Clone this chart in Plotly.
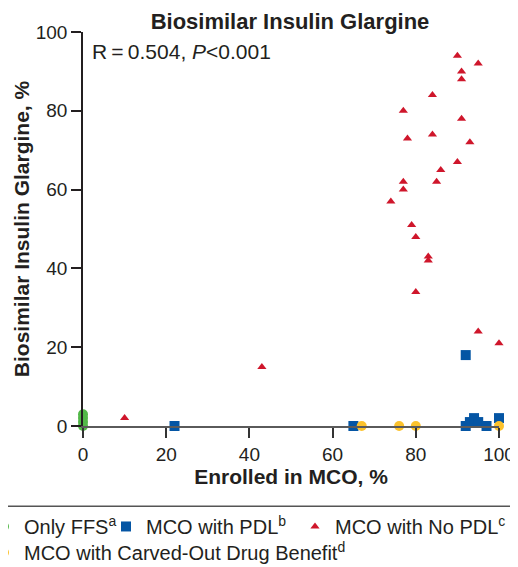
import plotly.graph_objects as go

# Enrolled in MCO (%) vs biosimilar insulin glargine share (%), per state
ffs_x = [0, 0, 0, 0]
ffs_y = [0, 1, 2, 3]

pdl_x = [22, 65, 92, 92, 93, 94, 95, 97, 100]
pdl_y = [0, 0, 18, 0, 1, 2, 1, 0, 2]

nopdl_x = [90, 95, 91, 91, 84, 77, 91, 78, 84, 93, 90, 86, 85, 77, 77,
           74, 79, 80, 83, 83, 80, 95, 100, 43, 10]
nopdl_y = [94, 92, 90, 88, 84, 80, 78, 73, 74, 72, 67, 65, 62, 62, 60,
           57, 51, 48, 43, 42, 34, 24, 21, 15, 2]

carved_x = [67, 76, 80, 100]
carved_y = [0, 0, 0, 0]

x_ticks = [0, 20, 40, 60, 80, 100]
y_ticks = [0, 20, 40, 60, 80, 100]

FONT = 'Liberation Sans, Arial, sans-serif'
TEXT = '#231f20'


def make_scatter(x, y, name, symbol, color, size, legend):
    return go.Scatter(
        x=x, y=y, mode='markers', name=name, legend=legend,
        marker=dict(symbol=symbol, color=color, size=size, line=dict(width=0)),
        cliponaxis=False,
    )


def legend_box(x, y):
    # one legend per entry so the entries sit where the original puts them
    return dict(orientation='h', x=x, xanchor='left', y=y, yanchor='middle',
                font=dict(size=20, color=TEXT), bgcolor='rgba(0,0,0,0)')


def plot_glargine():
    fig = go.Figure(data=[
        make_scatter(ffs_x, ffs_y, 'Only FFS<sup>a</sup>', 'circle', '#52b848', 10, 'legend'),
        make_scatter(pdl_x, pdl_y, 'MCO with PDL<sup>b</sup>', 'square', '#0455a4', 10, 'legend2'),
        make_scatter(nopdl_x, nopdl_y, 'MCO with No PDL<sup>c</sup>', 'triangle-up', '#cf162b', 8, 'legend3'),
        make_scatter(carved_x, carved_y, 'MCO with Carved-Out Drug Benefit<sup>d</sup>', 'circle', '#fcc22c', 10, 'legend4'),
    ])

    # the page body has an 8px margin, so the figure is drawn 8px smaller
    fig.update_layout(
        width=510, height=559,
        margin=dict(l=75, r=19, t=24, b=141, autoexpand=False),
        plot_bgcolor='white', paper_bgcolor='white',
        font=dict(family=FONT, size=19, color=TEXT),
        title=dict(text='<b>Biosimilar Insulin Glargine</b>', x=0.4976, xref='paper', xanchor='center',
                   y=0.977, yanchor='middle', font=dict(size=22)),
        showlegend=True,
        legend=legend_box(-0.238, -0.255),
        legend2=legend_box(0.0553, -0.255),
        legend3=legend_box(0.5096, -0.255),
        legend4=legend_box(-0.238, -0.321),
        shapes=[dict(type='line', xref='paper', yref='paper', x0=-0.25, x1=1.1,
                     y0=-0.2038, y1=-0.2038, line=dict(color='#555', width=1.5))],
        annotations=[dict(text='R\u2009=\u20090.504, <i>P</i>&lt;0.001', xref='paper', yref='paper',
                          x=0.0168, y=0.95, xanchor='left', yanchor='middle', showarrow=False,
                          font=dict(size=21))],
    )
    fig.update_xaxes(
        range=[0, 100], tickvals=x_ticks, showgrid=False, zeroline=False,
        showline=True, linecolor='#5a5a5a', linewidth=1.5,
        ticks='outside', ticklen=10, tickcolor='#333', tickwidth=1.5,
        title=dict(text='<b>Enrolled in MCO, %</b>', font=dict(size=21), standoff=0),
    )
    fig.update_yaxes(
        range=[0, 100], tickvals=y_ticks, showgrid=False, zeroline=False,
        showline=True, linecolor=TEXT, linewidth=1.5,
        ticks='outside', ticklen=10, tickcolor=TEXT, tickwidth=1.5,
        title=dict(text='<b>Biosimilar Insulin Glargine, %</b>', font=dict(size=21), standoff=0),
    )
    return fig


fig = plot_glargine()
fig.write_html("out.html")
